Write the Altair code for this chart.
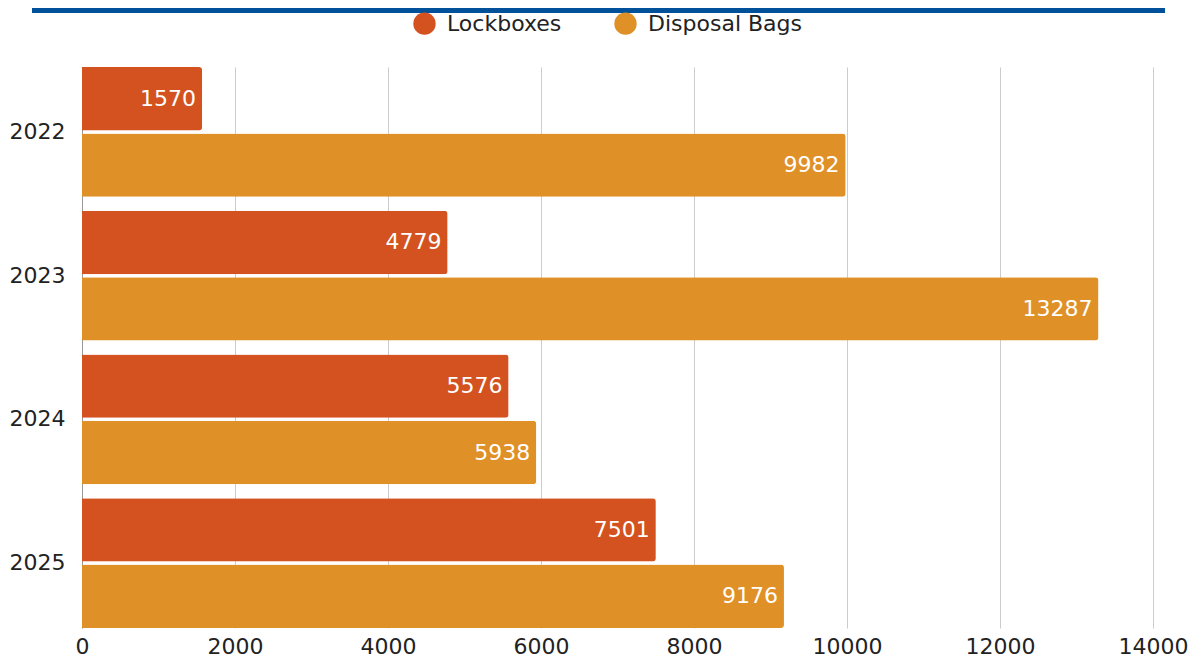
import altair as alt
import pandas as pd

years = ["2022", "2023", "2024", "2025"]
series = ["Lockboxes", "Disposal Bags"]
lockboxes = [1570, 4779, 5576, 7501]
disposal_bags = [9982, 13287, 5938, 9176]
colors = ["#D35220", "#DF9027"]
x_ticks = [0, 2000, 4000, 6000, 8000, 10000, 12000, 14000]

rows = []
for i, yr in enumerate(years):
    rows.append({"year": yr, "series": series[0], "value": lockboxes[i]})
    rows.append({"year": yr, "series": series[1], "value": disposal_bags[i]})
df = pd.DataFrame(rows)

FONT = "DejaVu Sans"
FS = 22

y_enc = alt.Y("year:N", sort=years,
              scale=alt.Scale(paddingInner=0.097, paddingOuter=0),
              axis=alt.Axis(title=None, labelFontSize=FS, labelColor="#222222",
                            labelPadding=17, ticks=False, domain=True,
                            domainColor="#999999", grid=False, labelFont=FONT))
yoff = alt.YOffset("series:N", sort=series,
                   scale=alt.Scale(paddingInner=0.045, paddingOuter=0))
x_enc = alt.X("value:Q", scale=alt.Scale(domain=[0, 14000], nice=False),
              axis=alt.Axis(values=x_ticks, title=None, labelFontSize=FS,
                            labelColor="#222222", ticks=False, domain=False,
                            gridColor="#cccccc", labelPadding=8, format="d",
                            labelFont=FONT, labelFlush=False, labelBound=False))
color = alt.Color("series:N", sort=series,
                  scale=alt.Scale(domain=series, range=colors),
                  legend=alt.Legend(title=None, orient="none", legendX=331, legendY=-55,
                                    direction="horizontal", symbolType="circle",
                                    symbolSize=500, symbolStrokeWidth=0, symbolOpacity=1,
                                    labelFontSize=FS, labelFont=FONT, labelColor="#222222",
                                    columnPadding=52, labelOffset=11))

base = alt.Chart(df)
bars = base.mark_bar(cornerRadiusEnd=3).encode(x=x_enc, y=y_enc, yOffset=yoff, color=color)
text = base.mark_text(align="right", baseline="middle", dx=-6, color="white",
                      fontSize=FS, font=FONT).encode(
    x="value:Q", y=alt.Y("year:N", sort=years), yOffset=alt.YOffset("series:N", sort=series),
    text=alt.Text("value:Q", format="d"))

topbar = alt.Chart(pd.DataFrame({"a": [0]})).mark_rule(color="#00509A", strokeWidth=5).encode(
    x=alt.value(-50), x2=alt.value(1083), y=alt.value(-56.5))

chart = alt.layer(bars, text, topbar).properties(
    width=1071, height=561,
    autosize=alt.AutoSizeParams(type="none"),
    padding={"left": 74, "top": 59, "right": 36, "bottom": 36},
).configure_view(stroke=None)

chart.save("out.html", embed_options={"renderer": "svg", "actions": False})
